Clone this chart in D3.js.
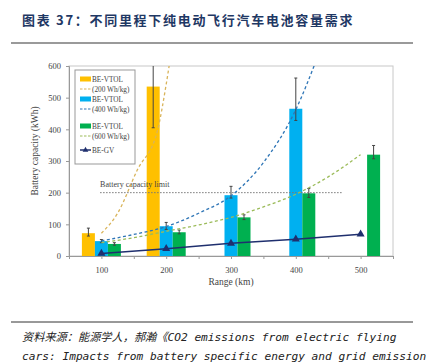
<!DOCTYPE html>
<html>
<head>
<meta charset="utf-8">
<script src="https://cdn.jsdelivr.net/npm/d3@7"></script>
<style>
  body { margin: 0; background: #fff; }
  svg { display: block; }
</style>
</head>
<body>
<div id="chart"></div>
<script>
const rootWidth = 426;
const rootHeight = 363;
const margin = { top: 66, right: 33, bottom: 107, left: 69 };
const chartWidth = rootWidth - margin.left - margin.right;
const chartHeight = rootHeight - margin.top - margin.bottom;

// data
const ranges = [100, 200, 300, 400, 500];
const vtol200 = [72, 535, null, null, null];
const vtol400 = [47, 94, 192, 465, null];
const vtol600 = [38, 75, 122, 198, 320];
const vtol200Err = [[63, 88], [405, 600], null, null, null];
const vtol400Err = [[42, 52], [84, 106], [183, 220], [428, 562], null];
const vtol600Err = [[34, 42], [70, 82], [115, 130], [185, 213], [307, 349]];
const beGV = [8, 23, 40, 53, 69];
const curve200 = [[100, 72], [125, 135], [155, 270], [187, 400], [199, 530], [206, 620]];
const curve400 = [[100, 48], [150, 68], [200, 93], [250, 135], [300, 190], [350, 295], [400, 462], [432, 620]];
const curve600 = [[100, 42], [150, 58], [200, 78], [250, 98], [300, 122], [350, 155], [400, 195], [450, 250], [500, 320]];
const capacityLimit = 200;
const yTicks = [0, 100, 200, 300, 400, 500, 600];

const root = d3.select("#chart").append("svg")
  .attr("width", rootWidth)
  .attr("height", rootHeight);

// header
root.append("text")
  .attr("x", 22).attr("y", 25)
  .attr("fill", "#1f3864")
  .attr("font-family", "'Noto Sans CJK SC', sans-serif")
  .attr("font-size", 13).attr("font-weight", "bold")
  .attr("letter-spacing", 1.7)
  .text("图表 37：不同里程下纯电动飞行汽车电池容量需求");
root.append("line")
  .attr("x1", 11).attr("x2", 413).attr("y1", 43).attr("y2", 43)
  .attr("stroke", "#9a9a9a").attr("stroke-width", 2);

const chart = root.append("g")
  .attr("transform", `translate(${margin.left}, ${margin.top})`);

const x = d3.scaleLinear().domain([50, 550]).range([0, chartWidth]);
const y = d3.scaleLinear().domain([0, 600]).range([chartHeight, 0]);
const barW = 13;

chart.append("clipPath").attr("id", "clip")
  .append("rect").attr("width", chartWidth).attr("height", chartHeight);

// frame
chart.append("rect")
  .attr("width", chartWidth).attr("height", chartHeight)
  .attr("fill", "none").attr("stroke", "#c8c8c8");

const series = [
  { vals: vtol200, err: vtol200Err, color: "#ffc000", off: -1 },
  { vals: vtol400, err: vtol400Err, color: "#00b0f0", off: 0 },
  { vals: vtol600, err: vtol600Err, color: "#00b050", off: 1 },
];

series.forEach((s) => {
  const pts = ranges.map((r, i) => ({ r, v: s.vals[i], e: s.err[i] })).filter((d) => d.v != null);
  chart.append("g").selectAll("rect").data(pts).join("rect")
    .attr("x", (d) => x(d.r) + s.off * barW - barW / 2)
    .attr("y", (d) => y(d.v))
    .attr("width", barW)
    .attr("height", (d) => y(0) - y(d.v))
    .attr("fill", s.color);
  const eg = chart.append("g").attr("stroke", "#444").attr("stroke-width", 1);
  pts.forEach((d) => {
    const cx = x(d.r) + s.off * barW;
    eg.append("line").attr("x1", cx).attr("x2", cx).attr("y1", y(d.e[0])).attr("y2", y(d.e[1]));
    [d.e[0], d.e[1]].forEach((v) => {
      if (v < 600) eg.append("line").attr("x1", cx - 1.5).attr("x2", cx + 1.5).attr("y1", y(v)).attr("y2", y(v));
    });
  });
});

// capacity limit
chart.append("line")
  .attr("x1", x(98)).attr("x2", x(472))
  .attr("y1", y(capacityLimit)).attr("y2", y(capacityLimit))
  .attr("stroke", "#777").attr("stroke-dasharray", "1.5,1.5");
chart.append("text")
  .attr("x", x(98)).attr("y", y(capacityLimit) - 6)
  .attr("font-family", "'Liberation Serif', serif").attr("font-size", 8)
  .attr("fill", "#444")
  .text("Battery capacity limit");

// dashed curves
const line = d3.line().x((d) => x(d[0])).y((d) => y(d[1])).curve(d3.curveMonotoneX);
const curves = [
  { data: curve200, color: "#d9b45a" },
  { data: curve400, color: "#2e75b6" },
  { data: curve600, color: "#9bbb59" },
];
const cg = chart.append("g").attr("clip-path", "url(#clip)");
curves.forEach((c) => {
  cg.append("path").datum(c.data)
    .attr("d", line)
    .attr("fill", "none").attr("stroke", c.color)
    .attr("stroke-width", 1.3).attr("stroke-dasharray", "3,2.5");
});

// BE-GV
const gvPts = ranges.map((r, i) => [r, beGV[i]]);
chart.append("path").datum(gvPts)
  .attr("d", d3.line().x((d) => x(d[0])).y((d) => y(d[1])))
  .attr("fill", "none").attr("stroke", "#1f2f6e").attr("stroke-width", 1.5);
chart.append("g").selectAll("path").data(gvPts).join("path")
  .attr("d", d3.symbol(d3.symbolTriangle, 28))
  .attr("transform", (d) => `translate(${x(d[0])}, ${y(d[1])})`)
  .attr("fill", "#1f2f6e");

// axes
const yAxis = chart.append("g")
  .call(d3.axisLeft(y).tickValues(yTicks).tickSize(3).tickPadding(5));
const xAxis = chart.append("g")
  .attr("transform", `translate(0, ${chartHeight})`)
  .call(d3.axisBottom(x).tickValues(d3.range(50, 551, 50)).tickSize(3).tickPadding(8)
    .tickFormat((d) => (d % 100 === 0 && d >= 100 && d <= 500 ? d : "")));
[xAxis, yAxis].forEach((a) => {
  a.select(".domain").attr("stroke", "#999");
  a.selectAll(".tick line").attr("stroke", "#999");
  a.selectAll("text")
    .attr("font-family", "'Liberation Serif', serif").attr("font-size", 8.5).attr("fill", "#444");
});

chart.append("text")
  .attr("x", x(300)).attr("y", chartHeight + 29)
  .attr("text-anchor", "middle")
  .attr("font-family", "'Liberation Serif', serif").attr("font-size", 9.5).attr("fill", "#444")
  .text("Range (km)");
chart.append("text")
  .attr("transform", `translate(-31, ${chartHeight / 2 - 10}) rotate(-90)`)
  .attr("text-anchor", "middle")
  .attr("font-family", "'Liberation Serif', serif").attr("font-size", 9.5).attr("fill", "#444")
  .text("Battery capacity (kWh)");

// legend
const legend = chart.append("g").attr("transform", "translate(6, 4)");
legend.append("rect")
  .attr("width", 60).attr("height", 94)
  .attr("fill", "#fff").attr("stroke", "#999");
const legItems = [
  { color: "#ffc000", dash: "#d9b45a", label: "(200 Wh/kg)", y: 9 },
  { color: "#00b0f0", dash: "#2e75b6", label: "(400 Wh/kg)", y: 29 },
  { color: "#00b050", dash: "#9bbb59", label: "(600 Wh/kg)", y: 56 },
];
legItems.forEach((d) => {
  legend.append("rect").attr("x", 5).attr("y", d.y - 2.5).attr("width", 11).attr("height", 5).attr("fill", d.color);
  legend.append("text").attr("x", 17).attr("y", d.y + 2.5).text("BE-VTOL");
  legend.append("line").attr("x1", 5).attr("x2", 16).attr("y1", d.y + 10).attr("y2", d.y + 10)
    .attr("stroke", d.dash).attr("stroke-width", 1.2).attr("stroke-dasharray", "2.5,1.5");
  legend.append("text").attr("x", 17).attr("y", d.y + 12.5).text(d.label);
});
legend.append("line").attr("x1", 5).attr("x2", 16).attr("y1", 80).attr("y2", 80)
  .attr("stroke", "#1f2f6e").attr("stroke-width", 1.5);
legend.append("path").attr("d", d3.symbol(d3.symbolTriangle, 14)).attr("transform", "translate(10.5, 80)").attr("fill", "#1f2f6e");
legend.append("text").attr("x", 17).attr("y", 82.5).text("BE-GV");
legend.selectAll("text")
  .attr("font-family", "'Liberation Serif', serif").attr("font-size", 7.3).attr("fill", "#444");

// footer
root.append("line")
  .attr("x1", 11).attr("x2", 413).attr("y1", 322).attr("y2", 322)
  .attr("stroke", "#333").attr("stroke-width", 1);
const foot = root.append("g")
  .attr("font-family", "'DejaVu Sans Mono', 'Noto Sans CJK SC', monospace")
  .attr("font-size", 11.2).attr("font-style", "italic").attr("fill", "#222");
foot.append("text").attr("x", 22).attr("y", 341)
  .text("资料来源：能源学人，郝瀚《CO2 emissions from electric flying");
foot.append("text").attr("x", 22).attr("y", 360)
  .text("cars: Impacts from battery specific energy and grid emission");
</script>
</body>
</html>
